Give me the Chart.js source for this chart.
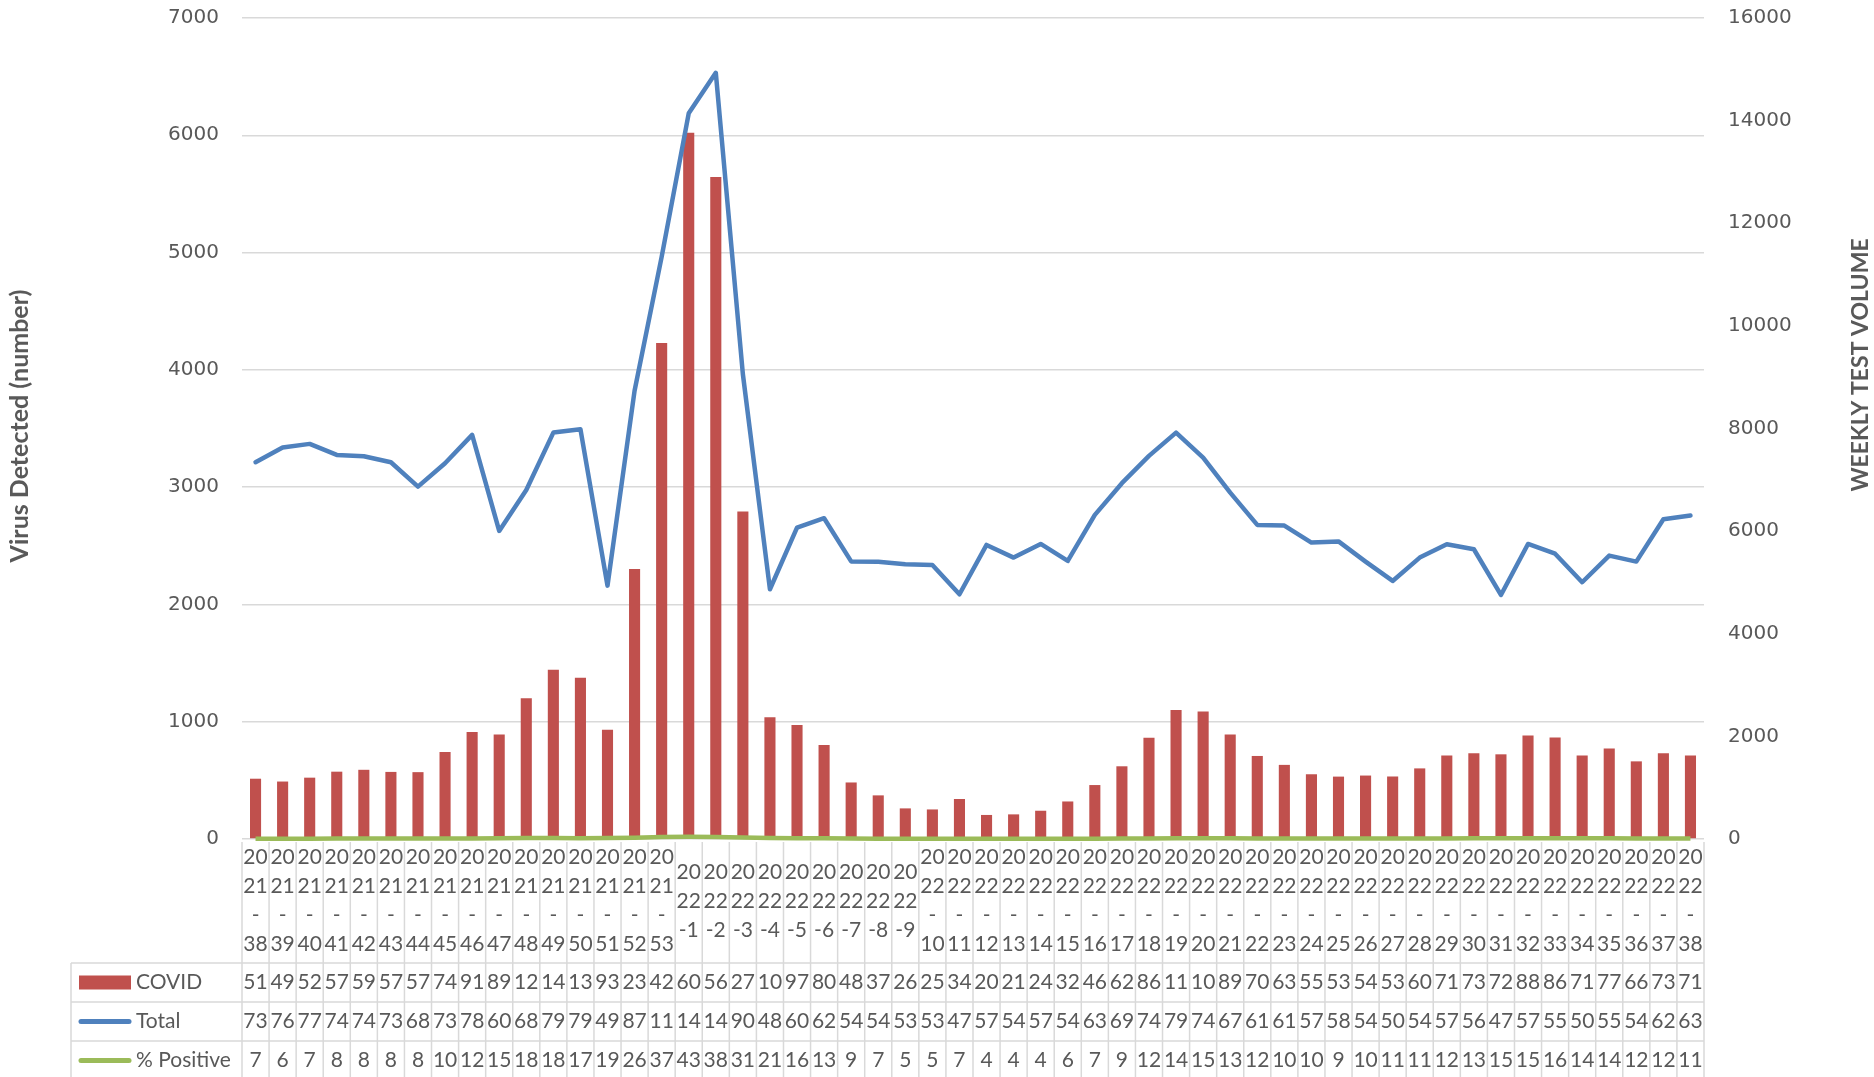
<!DOCTYPE html>
<html><head><meta charset="utf-8">
<script src="https://cdn.jsdelivr.net/npm/chart.js@4.4.0/dist/chart.umd.min.js"></script>
<style>html,body{margin:0;padding:0;background:#fff;}canvas{display:block;}</style>
</head><body>
<canvas id="c" width="1874" height="1077"></canvas>
<script>
const categories = ["2021-38","2021-39","2021-40","2021-41","2021-42","2021-43","2021-44","2021-45","2021-46","2021-47","2021-48","2021-49","2021-50","2021-51","2021-52","2021-53",
"2022-1","2022-2","2022-3","2022-4","2022-5","2022-6","2022-7","2022-8","2022-9","2022-10","2022-11","2022-12","2022-13","2022-14","2022-15","2022-16","2022-17","2022-18","2022-19","2022-20","2022-21","2022-22","2022-23","2022-24","2022-25","2022-26","2022-27","2022-28","2022-29","2022-30","2022-31","2022-32","2022-33","2022-34","2022-35","2022-36","2022-37","2022-38"];
const covid = [514,490,523,574,590,572,570,742,912,890,1200,1443,1375,932,2303,4230,
6022,5645,2792,1037,972,801,482,372,261,252,341,205,210,241,320,460,620,864,1100,1088,890,708,632,552,532,541,533,602,712,732,722,882,865,712,772,662,732,712];
const total = [7343,7628,7700,7485,7460,7343,6868,7324,7875,6004,6803,7920,7986,4938,8736,11345,
14142,14933,9060,4867,6068,6251,5410,5402,5355,5341,4770,5731,5484,5750,5419,6316,6934,7466,7920,7433,6750,6121,6108,5776,5800,5406,5029,5484,5744,5647,4756,5750,5560,5004,5523,5406,6232,6305];
const pctPositive = [7,6,7,8,8,8,8,10,12,15,18,18,17,19,26,37,
43,38,31,21,16,13,9,7,5,5,7,4,4,4,6,7,9,12,14,15,13,12,10,10,9,10,11,11,12,13,15,15,16,14,14,12,12,11];
const seriesNames = ["COVID","Total","% Positive"];
const leftAxis = {min:0, max:7000, step:1000, title:"Virus Detected (number)"};
const rightAxis = {min:0, max:16000, step:2000, title:"WEEKLY TEST VOLUME"};

const TEXT = '#595959', GRID = '#D9D9D9';
const RED = '#C0504D', BLUE = '#4F81BD', GREEN = '#9BBB59';
const TABLE_FONT = '21px Lato';

function wrapLabel(ctx, label, maxW){
  const parts = label.split('-');
  const lines = charWrap(ctx, parts[0], maxW);
  const rest = '-' + parts[1];
  if (ctx.measureText(rest).width <= maxW) lines.push(rest);
  else { lines.push('-'); charWrap(ctx, parts[1], maxW).forEach(l=>lines.push(l)); }
  return lines;
}
function charWrap(ctx, s, maxW){
  const out=[]; let cur='';
  for (const ch of s){
    if (cur && ctx.measureText(cur+ch).width > maxW){ out.push(cur); cur=ch; }
    else cur+=ch;
  }
  if (cur) out.push(cur);
  return out;
}

const tablePlugin = {
  id:'dataTable',
  afterDraw(chart){
    const ctx = chart.ctx, area = chart.chartArea, xs = chart.scales.x;
    const n = categories.length;
    const colW = (area.right - area.left)/n;
    const top = area.bottom;
    const headerBottom = 963;
    const rowH = 39;
    const legendLeft = 71;
    const H = chart.height;
    ctx.save();
    ctx.strokeStyle = GRID; ctx.lineWidth = 1.5;
    const line=(x1,y1,x2,y2)=>{ctx.beginPath();ctx.moveTo(x1,y1);ctx.lineTo(x2,y2);ctx.stroke();};
    for (let i=0;i<=n;i++){ const x = area.left + i*colW; line(x, top+3, x, H); }
    for (let r=0;r<3;r++){ line(legendLeft, headerBottom + r*rowH, area.right, headerBottom + r*rowH); }
    line(legendLeft, headerBottom, legendLeft, H);

    ctx.fillStyle = TEXT; ctx.font = TABLE_FONT;
    ctx.textAlign = 'center'; ctx.textBaseline = 'middle';
    const maxW = colW - 1;
    const headerCenter = (top + headerBottom)/2;
    const lh = 29;
    categories.forEach((c,i)=>{
      const cx = xs.getPixelForValue(i);
      const lines = wrapLabel(ctx, c, maxW);
      const y0 = headerCenter - (lines.length-1)*lh/2;
      lines.forEach((l,k)=>ctx.fillText(l, cx, y0 + k*lh));
    });
    const rows = [covid, total, pctPositive];
    rows.forEach((vals, r)=>{
      const cy = headerBottom + r*rowH + rowH/2;
      vals.forEach((v,i)=>{
        const cx = xs.getPixelForValue(i);
        const first = charWrap(ctx, String(v), maxW)[0];
        ctx.fillText(first, cx, cy);
      });
    });
    ctx.textAlign = 'left';
    const keyX1 = 79, keyX2 = 131;
    rows.forEach((vals, r)=>{
      const cy = headerBottom + r*rowH + rowH/2;
      if (r===0){ ctx.fillStyle = RED; ctx.fillRect(keyX1, cy-7, keyX2-keyX1, 14); }
      else {
        ctx.strokeStyle = r===1?BLUE:GREEN; ctx.lineWidth = 5; ctx.lineCap='round';
        line(keyX1+2, cy, keyX2-2, cy);
      }
      ctx.fillStyle = TEXT;
      ctx.fillText(seriesNames[r], 136, cy);
    });
    ctx.textAlign = 'center';
    ctx.save(); ctx.font = 'bold 25px Lato'; ctx.translate(20, 426); ctx.rotate(-Math.PI/2); ctx.fillText(leftAxis.title, 0, 0); ctx.restore();
    ctx.save(); ctx.font = 'bold 23px Lato'; ctx.translate(1861, 365); ctx.rotate(-Math.PI/2); ctx.fillText(rightAxis.title, 0, 0); ctx.restore();
    ctx.restore();
  }
};

const plain = v => String(v);

new Chart(document.getElementById('c'), {
  type:'bar',
  data:{
    labels: categories,
    datasets:[
      {type:'line', label:seriesNames[1], data:total, yAxisID:'y1', borderColor:BLUE, backgroundColor:BLUE, borderWidth:4.5, pointRadius:0, tension:0, order:1, borderCapStyle:'round', borderJoinStyle:'round', clip:false},
      {type:'line', label:seriesNames[2], data:pctPositive, yAxisID:'y1', borderColor:GREEN, backgroundColor:GREEN, borderWidth:4.5, pointRadius:0, tension:0, order:2, clip:false},
      {type:'bar', label:seriesNames[0], data:covid, yAxisID:'y', backgroundColor:RED, barPercentage:0.41, categoryPercentage:1, order:3}
    ]
  },
  options:{
    responsive:false, animation:false, events:[],
    layout:{padding:{top:18, bottom:238, left:0, right:0}},
    plugins:{legend:{display:false}, tooltip:{enabled:false}},
    scales:{
      x:{display:false, offset:true, grid:{display:false}},
      y:{position:'left', min:leftAxis.min, max:leftAxis.max,
         ticks:{stepSize:leftAxis.step, color:TEXT, font:{family:'DejaVu Sans', size:20}, padding:23, callback:plain},
         grid:{color:GRID, lineWidth:1.5, drawTicks:false}, border:{display:false},
         afterFit(s){ s.width = 242; s.paddingTop = 0; s.paddingBottom = 0; }},
      y1:{position:'right', min:rightAxis.min, max:rightAxis.max,
         ticks:{stepSize:rightAxis.step, color:TEXT, font:{family:'DejaVu Sans', size:20}, padding:24, callback:plain},
         grid:{drawOnChartArea:false, drawTicks:false}, border:{display:false},
         afterFit(s){ s.width = 170; s.paddingTop = 0; s.paddingBottom = 0; }}
    }
  },
  plugins:[tablePlugin]
});
</script>
</body></html>
